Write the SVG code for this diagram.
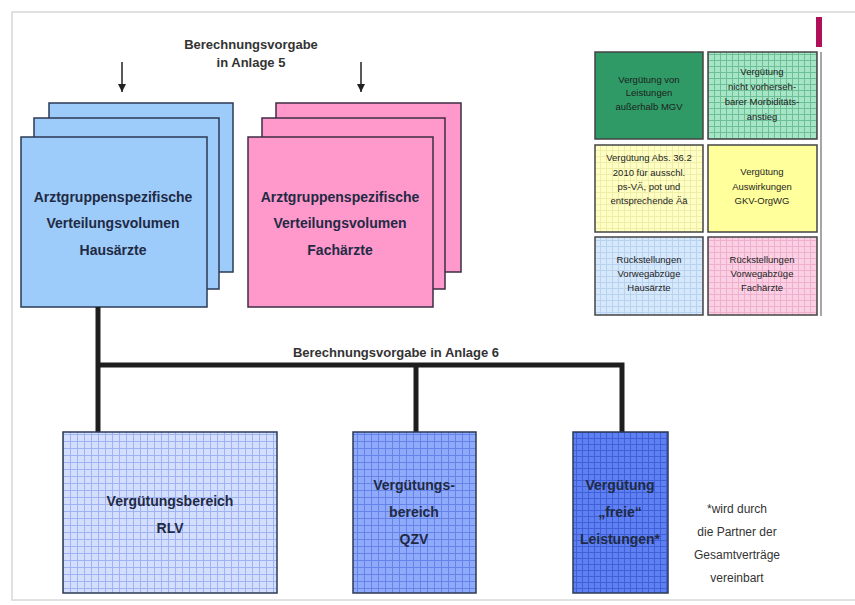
<svg xmlns="http://www.w3.org/2000/svg" width="855" height="605" viewBox="0 0 855 605">
<defs>
<pattern id="gRLV" width="7" height="7" patternUnits="userSpaceOnUse">
<rect width="7" height="7" fill="#d4deff"/>
<path d="M0 0.5H7M0.5 0V7" stroke="#9fb2f2" stroke-width="1"/>
</pattern>
<pattern id="gQZV" width="7" height="7" patternUnits="userSpaceOnUse">
<rect width="7" height="7" fill="#8fa9fb"/>
<path d="M0 0.5H7M0.5 0V7" stroke="#6683ea" stroke-width="1"/>
</pattern>
<pattern id="gFrei" width="6" height="6" patternUnits="userSpaceOnUse">
<rect width="6" height="6" fill="#5e80f2"/>
<path d="M0 0.5H6M0.5 0V6" stroke="#3f60d6" stroke-width="1"/>
</pattern>
<pattern id="gGreen" width="6" height="6" patternUnits="userSpaceOnUse">
<rect width="6" height="6" fill="#a6e6c6"/>
<path d="M0 0.5H6M0.5 0V6" stroke="#6cbf97" stroke-width="1"/>
</pattern>
<pattern id="gYel" width="6" height="6" patternUnits="userSpaceOnUse">
<rect width="6" height="6" fill="#ffffc4"/>
<path d="M0 0.5H6M0.5 0V6" stroke="#eeeeaa" stroke-width="1"/>
</pattern>
<pattern id="gBlue" width="6" height="6" patternUnits="userSpaceOnUse">
<rect width="6" height="6" fill="#d6e8fb"/>
<path d="M0 0.5H6M0.5 0V6" stroke="#b9d2ee" stroke-width="1"/>
</pattern>
<pattern id="gPink" width="6" height="6" patternUnits="userSpaceOnUse">
<rect width="6" height="6" fill="#fbd0e4"/>
<path d="M0 0.5H6M0.5 0V6" stroke="#eeb0cc" stroke-width="1"/>
</pattern>
<marker id="arr" markerWidth="10" markerHeight="10" refX="8" refY="5" orient="auto" markerUnits="userSpaceOnUse">
<path d="M0 1 L8 5 L0 9 Z" fill="#222"/>
</marker>
</defs>
<style>
text{font-family:"Liberation Sans","DejaVu Sans",sans-serif;text-anchor:middle;}
.big{font-size:14px;font-weight:bold;fill:#1f2a44;}
.hdr{font-size:13px;font-weight:bold;fill:#333;}
.leg{font-size:9.5px;fill:#1e1e1e;}
.note{font-size:12px;fill:#333;}
.blue{fill:#9dcbfa;stroke:#2c3a55;stroke-width:1.5;}
.pink{fill:#ff99cc;stroke:#3c2c44;stroke-width:1.5;}
.lbox{stroke:#444;stroke-width:1.5;}
.conn{stroke:#1e1e1e;stroke-width:5;fill:none;}
</style>
<rect x="0" y="0" width="855" height="605" fill="#ffffff"/>
<rect x="12" y="12" width="850" height="588" fill="none" stroke="#d8d8d8" stroke-width="1.5"/>
<rect x="816" y="17" width="6" height="30" fill="#b0105a"/>
<line x1="821" y1="52" x2="821" y2="316" stroke="#888" stroke-width="1.5"/>

<g id="hdr5">
<text class="hdr" x="251" y="49">Berechnungsvorgabe</text>
<text class="hdr" x="251" y="67">in Anlage 5</text>
<line x1="122" y1="62" x2="122" y2="92" stroke="#222" stroke-width="1.5" marker-end="url(#arr)"/>
<line x1="361" y1="62" x2="361" y2="92" stroke="#222" stroke-width="1.5" marker-end="url(#arr)"/>
</g>

<g id="hausaerzte">
<rect class="blue" x="49" y="103" width="184" height="169"/>
<rect class="blue" x="34" y="118" width="185" height="171"/>
<rect class="blue" x="21" y="137" width="186" height="170"/>
<text class="big" x="113" y="202">Arztgruppenspezifische</text>
<text class="big" x="113" y="228">Verteilungsvolumen</text>
<text class="big" x="113" y="255">Hausärzte</text>
</g>

<g id="fachaerzte">
<rect class="pink" x="276" y="103" width="185" height="169"/>
<rect class="pink" x="262" y="118" width="183" height="171"/>
<rect class="pink" x="248" y="137" width="185" height="170"/>
<text class="big" x="340" y="202">Arztgruppenspezifische</text>
<text class="big" x="340" y="228">Verteilungsvolumen</text>
<text class="big" x="340" y="255">Fachärzte</text>
</g>

<g id="connectors">
<path class="conn" d="M98 307 V432"/>
<path class="conn" d="M98 365 H622 V432"/>
<path class="conn" d="M416 365 V432"/>
<text class="hdr" x="396" y="357">Berechnungsvorgabe in Anlage 6</text>
</g>

<g id="rlv">
<rect x="63" y="432" width="214" height="161" fill="url(#gRLV)" stroke="#2c3a55" stroke-width="1.5"/>
<text class="big" x="170" y="506">Vergütungsbereich</text>
<text class="big" x="170" y="533">RLV</text>
</g>

<g id="qzv">
<rect x="353" y="432" width="123" height="161" fill="url(#gQZV)" stroke="#2c3a55" stroke-width="1.5"/>
<text class="big" x="414" y="490">Vergütungs-</text>
<text class="big" x="414" y="517">bereich</text>
<text class="big" x="414" y="544">QZV</text>
</g>

<g id="frei">
<rect x="573" y="432" width="95" height="161" fill="url(#gFrei)" stroke="#2c3a55" stroke-width="1.5"/>
<text class="big" x="620" y="490">Vergütung</text>
<text class="big" x="620" y="517">„freie“</text>
<text class="big" x="620" y="544">Leistungen*</text>
</g>

<g id="note">
<text class="note" x="737" y="513">*wird durch</text>
<text class="note" x="737" y="536">die Partner der</text>
<text class="note" x="737" y="559">Gesamtverträge</text>
<text class="note" x="737" y="582">vereinbart</text>
</g>

<g id="leg1">
<rect class="lbox" x="595" y="52" width="108" height="87" fill="#2f9a66"/>
<text class="leg" x="649" y="83">Vergütung von</text>
<text class="leg" x="649" y="96">Leistungen</text>
<text class="leg" x="649" y="110">außerhalb MGV</text>
</g>
<g id="leg2">
<rect class="lbox" x="708" y="52" width="109" height="87" fill="url(#gGreen)"/>
<text class="leg" x="762" y="75">Vergütung</text>
<text class="leg" x="762" y="90">nicht vorherseh-</text>
<text class="leg" x="762" y="105">barer Morbiditäts-</text>
<text class="leg" x="762" y="120">anstieg</text>
</g>
<g id="leg3">
<rect class="lbox" x="595" y="145" width="108" height="87" fill="url(#gYel)"/>
<text class="leg" x="649" y="161">Vergütung Abs. 36.2</text>
<text class="leg" x="649" y="176">2010 für ausschl.</text>
<text class="leg" x="649" y="190">ps-VÄ, pot und</text>
<text class="leg" x="649" y="204">entsprechende Ää</text>
</g>
<g id="leg4">
<rect class="lbox" x="708" y="145" width="109" height="87" fill="#ffff9c"/>
<text class="leg" x="762" y="175">Vergütung</text>
<text class="leg" x="762" y="190">Auswirkungen</text>
<text class="leg" x="762" y="204">GKV-OrgWG</text>
</g>
<g id="leg5">
<rect class="lbox" x="595" y="237" width="108" height="78" fill="url(#gBlue)" stroke="#505a66"/>
<text class="leg" x="649" y="263">Rückstellungen</text>
<text class="leg" x="649" y="277">Vorwegabzüge</text>
<text class="leg" x="649" y="291">Hausärzte</text>
</g>
<g id="leg6">
<rect class="lbox" x="708" y="237" width="109" height="78" fill="url(#gPink)" stroke="#5a4050"/>
<text class="leg" x="762" y="263">Rückstellungen</text>
<text class="leg" x="762" y="277">Vorwegabzüge</text>
<text class="leg" x="762" y="291">Fachärzte</text>
</g>
</svg>
